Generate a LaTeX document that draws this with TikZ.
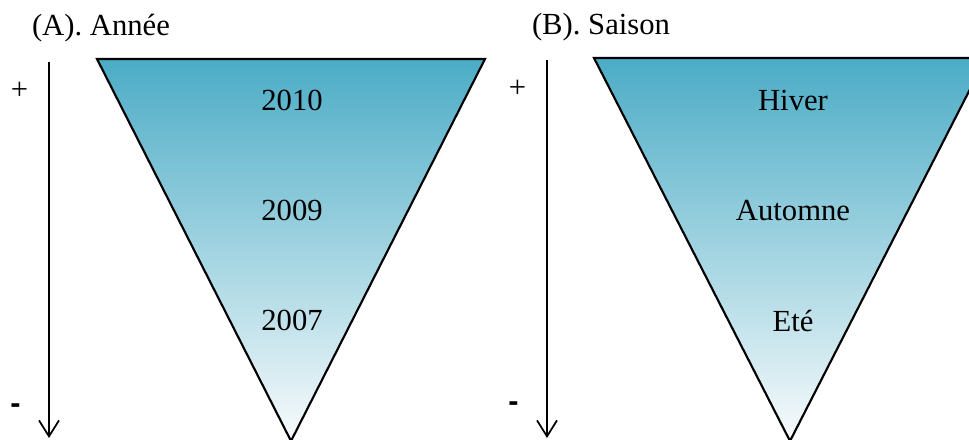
\documentclass[tikz,border=0pt]{standalone}
\usepackage{fontspec}
\setmainfont{Liberation Serif}
\newfontfamily\dashfont{Liberation Sans}
\usetikzlibrary{arrows.meta}
\definecolor{aqua}{RGB}{75,172,198}
\definecolor{midaqua}{RGB}{168,212,225}
\definecolor{paleaqua}{RGB}{248,251,252}

\begin{document}
\begin{tikzpicture}[x=.75pt,y=.75pt,line width=1.4pt,font=\fontsize{23}{27}\selectfont,
  funnel/.style={top color=aqua,middle color=midaqua,bottom color=paleaqua,draw=black,line width=1.6pt},
  axis/.style={-{Straight Barb[length=12pt,width=15pt,line width=1.3pt]}},
  lbl/.style={inner sep=0pt}]
\useasboundingbox (0,0) rectangle (969,439);
\clip (0,0) rectangle (969,439);
% (A) annee
\node[lbl] (titleA) at (101,411) {(A). Ann\'ee};
\shade[funnel] (97,380)--(485,380)--(291,-2)--cycle;
\coordinate (aTop) at (49,377);
\coordinate (aBot) at (49,1);
\draw[axis] (aTop)--(aBot);
\node[lbl] (plusA) at (19.5,348) {+};
\node[lbl,font=\dashfont\bfseries\fontsize{23}{27}\selectfont] (minusA) at (15.5,30) {-};
\node[lbl] (y2010) at (292,338.5) {2010};
\node[lbl] (y2009) at (292,228.5) {2009};
\node[lbl] (y2007) at (292,118.5) {2007};
% (B) saison
\node[lbl] (titleB) at (601,412) {(B). Saison};
\shade[funnel] (594,381)--(986,381)--(790,-2)--cycle;
\coordinate (bTop) at (547,379);
\coordinate (bBot) at (547,1);
\draw[axis] (bTop)--(bBot);
\node[lbl] (plusB) at (517.5,350) {+};
\node[lbl,font=\dashfont\bfseries\fontsize{23}{27}\selectfont] (minusB) at (513.5,32) {-};
\node[lbl] (hiver) at (793,338.5) {Hiver};
\node[lbl] (automne) at (793,228.5) {Automne};
\node[lbl] (ete) at (793,118.5) {Et\'e};
\end{tikzpicture}
\end{document}
